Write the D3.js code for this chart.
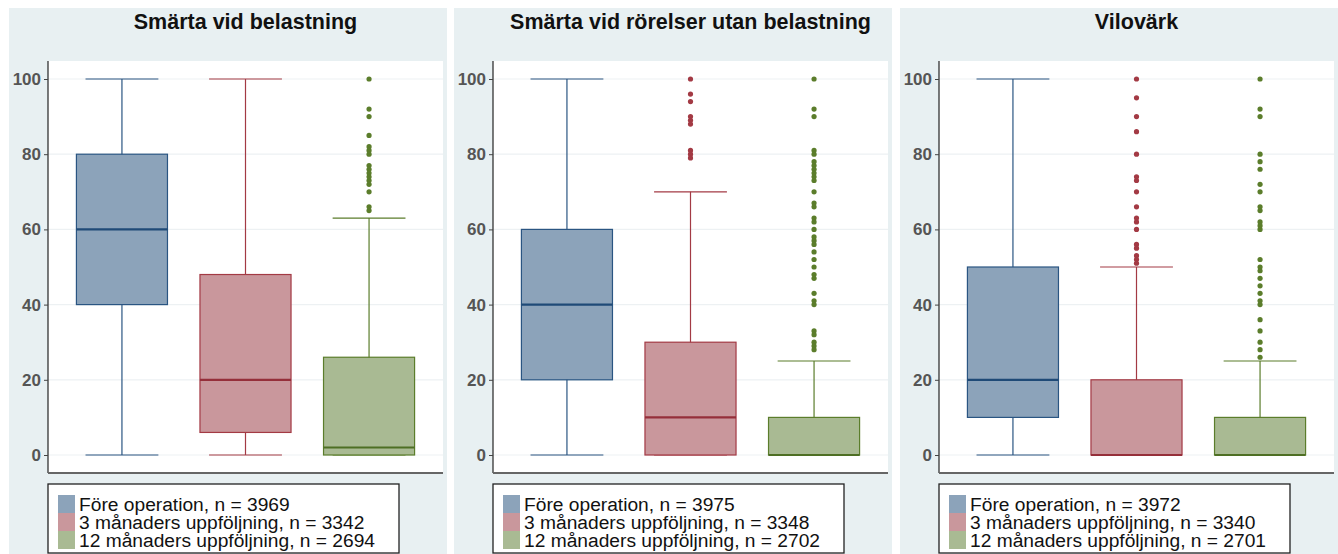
<!DOCTYPE html>
<html>
<head>
<meta charset="utf-8" />
<title>Smärta boxplot</title>
<style>
  body { margin: 0; background: #fff; }
  svg { display: block; }
</style>
</head>
<body>
<div id="chart"></div>
<script src="https://d3js.org/d3.v7.min.js"></script>
<script>
(function(d3) {
'use strict';

var panelTitles = ['Smärta vid belastning', 'Smärta vid rörelser utan belastning', 'Vilovärk'];
var categories = ['Före operation', '3 månaders uppföljning', '12 månaders uppföljning'];
var nCounts = [[3969, 3342, 2694], [3975, 3348, 2702], [3972, 3340, 2701]];
var yTicks = [0, 20, 40, 60, 80, 100];

// box statistics per panel, one value per category
var whiskerLow  = [[0, 0, 0], [0, 0, 0], [0, 0, 0]];
var quart1      = [[40, 6, 0], [20, 0, 0], [10, 0, 0]];
var medians     = [[60, 20, 2], [40, 10, 0], [20, 0, 0]];
var quart3      = [[80, 48, 26], [60, 30, 10], [50, 20, 10]];
var whiskerHigh = [[100, 100, 63], [100, 70, 25], [100, 50, 25]];

var outliers = [
  [[], [], [100, 92, 90, 85, 82, 81, 80, 77, 76, 75, 74, 73, 72, 70, 66, 65]],
  [[], [100, 96, 94, 90, 89, 88, 81, 80, 79],
       [100, 92, 90, 81, 80, 78, 77, 76, 75, 74, 73, 70, 67, 66, 63, 62, 60, 58, 57, 56,
        54, 52, 50, 48, 47, 43, 41, 40, 33, 32, 30, 29, 28]],
  [[], [100, 95, 90, 86, 80, 74, 73, 70, 66, 63, 62, 60, 56, 55, 53, 52, 51],
       [100, 92, 90, 80, 78, 76, 72, 70, 66, 65, 62, 61, 60, 52, 50, 49, 47, 45, 43, 41,
        40, 36, 33, 30, 28, 26]]
];

var fills   = ['#8ca3ba', '#c9979c', '#a9ba93'];
var strokes = ['#2a5582', '#a33a44', '#5b7d2b'];
var medianColors = ['#1f4a77', '#952f3a', '#4e6f24'];

var width = 1338, height = 554;
var panelX = [9, 454, 900];
var panelW = 438;
var panelTop = 8;
var plotL = 39, plotR = 434, plotTop = 61, plotBottom = 473;

var svg = d3.select('#chart').append('svg')
  .attr('width', width).attr('height', height)
  .style('font-family', '"Liberation Sans", Arial, sans-serif');

var y = d3.scaleLinear().domain([0, 100]).range([455, 79]);

panelTitles.forEach(function(title, p) {
  var g = svg.append('g').attr('transform', 'translate(' + panelX[p] + ',0)');

  g.append('rect')
    .attr('x', 0).attr('y', panelTop)
    .attr('width', panelW).attr('height', height - panelTop)
    .attr('fill', '#e8f0f2');

  g.append('rect')
    .attr('x', plotL).attr('y', plotTop)
    .attr('width', plotR - plotL).attr('height', plotBottom - plotTop)
    .attr('fill', '#fff');

  g.append('text')
    .attr('x', (plotL + plotR) / 2).attr('y', 29)
    .attr('text-anchor', 'middle')
    .attr('font-size', 21.5).attr('font-weight', 'bold')
    .attr('fill', '#111')
    .text(title);

  // gridlines
  g.selectAll('.grid').data(yTicks).enter().append('line')
    .attr('x1', plotL).attr('x2', plotR)
    .attr('y1', function(d) { return y(d); })
    .attr('y2', function(d) { return y(d); })
    .attr('stroke', '#edf1f3').attr('stroke-width', 1.2);

  var x = d3.scaleBand().domain(categories)
    .range([plotL, plotR]).paddingInner(0.263).paddingOuter(0.23);
  var bw = x.bandwidth();
  var capW = bw * 0.8;

  var rows = categories.map(function(c, i) {
    return { cat: c, i: i, lo: whiskerLow[p][i], q1: quart1[p][i], med: medians[p][i],
             q3: quart3[p][i], hi: whiskerHigh[p][i], out: outliers[p][i] };
  });

  var box = g.selectAll('.box').data(rows).enter().append('g')
    .attr('transform', function(d) { return 'translate(' + (x(d.cat) + bw / 2) + ',0)'; });

  box.append('line')
    .attr('x1', 0).attr('x2', 0)
    .attr('y1', function(d) { return y(d.hi); })
    .attr('y2', function(d) { return y(d.lo); })
    .attr('stroke', function(d) { return strokes[d.i]; }).attr('stroke-width', 1.2);
  box.append('line')
    .attr('x1', -capW / 2).attr('x2', capW / 2)
    .attr('y1', function(d) { return y(d.hi); })
    .attr('y2', function(d) { return y(d.hi); })
    .attr('stroke', function(d) { return strokes[d.i]; }).attr('stroke-width', 1.2);
  box.append('line')
    .attr('x1', -capW / 2).attr('x2', capW / 2)
    .attr('y1', function(d) { return y(d.lo); })
    .attr('y2', function(d) { return y(d.lo); })
    .attr('stroke', function(d) { return strokes[d.i]; }).attr('stroke-width', 1.2);
  box.append('rect')
    .attr('x', -bw / 2).attr('width', bw)
    .attr('y', function(d) { return y(d.q3); })
    .attr('height', function(d) { return y(d.q1) - y(d.q3); })
    .attr('fill', function(d) { return fills[d.i]; })
    .attr('stroke', function(d) { return strokes[d.i]; }).attr('stroke-width', 1.2);
  box.append('line')
    .attr('x1', -bw / 2).attr('x2', bw / 2)
    .attr('y1', function(d) { return y(d.med); })
    .attr('y2', function(d) { return y(d.med); })
    .attr('stroke', function(d) { return medianColors[d.i]; }).attr('stroke-width', 2.2);

  box.selectAll('circle').data(function(d) { return d.out.map(function(v) { return { v: v, i: d.i }; }); })
    .enter().append('circle')
    .attr('cx', 0).attr('cy', function(d) { return y(d.v); })
    .attr('r', 2.6)
    .attr('fill', function(d) { return strokes[d.i]; });

  // y axis
  var yAxis = d3.axisLeft(y).tickValues(yTicks).tickSize(4).tickPadding(3);
  var ya = g.append('g').attr('transform', 'translate(' + plotL + ',0)').call(yAxis);
  ya.select('.domain').attr('d', 'M0,' + plotTop + 'V' + plotBottom).attr('stroke', '#333').attr('stroke-width', 1.3);
  ya.selectAll('.tick line').attr('stroke', '#444');
  ya.selectAll('.tick text')
    .attr('font-size', 17).attr('font-weight', 'bold').attr('fill', '#555')
    .attr('font-family', '"Liberation Sans", Arial, sans-serif');

  // bottom axis line
  g.append('line')
    .attr('x1', plotL).attr('x2', plotR)
    .attr('y1', plotBottom).attr('y2', plotBottom)
    .attr('stroke', '#666').attr('stroke-width', 2);

  // legend
  var lg = g.append('g').attr('transform', 'translate(' + plotL + ',484)');
  lg.append('rect')
    .attr('x', 0).attr('y', 0).attr('width', 351).attr('height', 69)
    .attr('fill', '#fff').attr('stroke', '#222').attr('stroke-width', 1.3);
  var items = lg.selectAll('.item').data(categories).enter().append('g')
    .attr('transform', function(d, i) { return 'translate(10,' + (11 + i * 18) + ')'; });
  items.append('rect')
    .attr('x', 0).attr('y', 0).attr('width', 17).attr('height', 18)
    .attr('fill', function(d, i) { return fills[i]; });
  items.append('text')
    .attr('x', 21).attr('y', 15.5)
    .attr('font-size', 19.2).attr('fill', '#111')
    .text(function(d, i) { return d + ', n = ' + nCounts[p][i]; });
});

})(window.d3);
</script>
</body>
</html>
